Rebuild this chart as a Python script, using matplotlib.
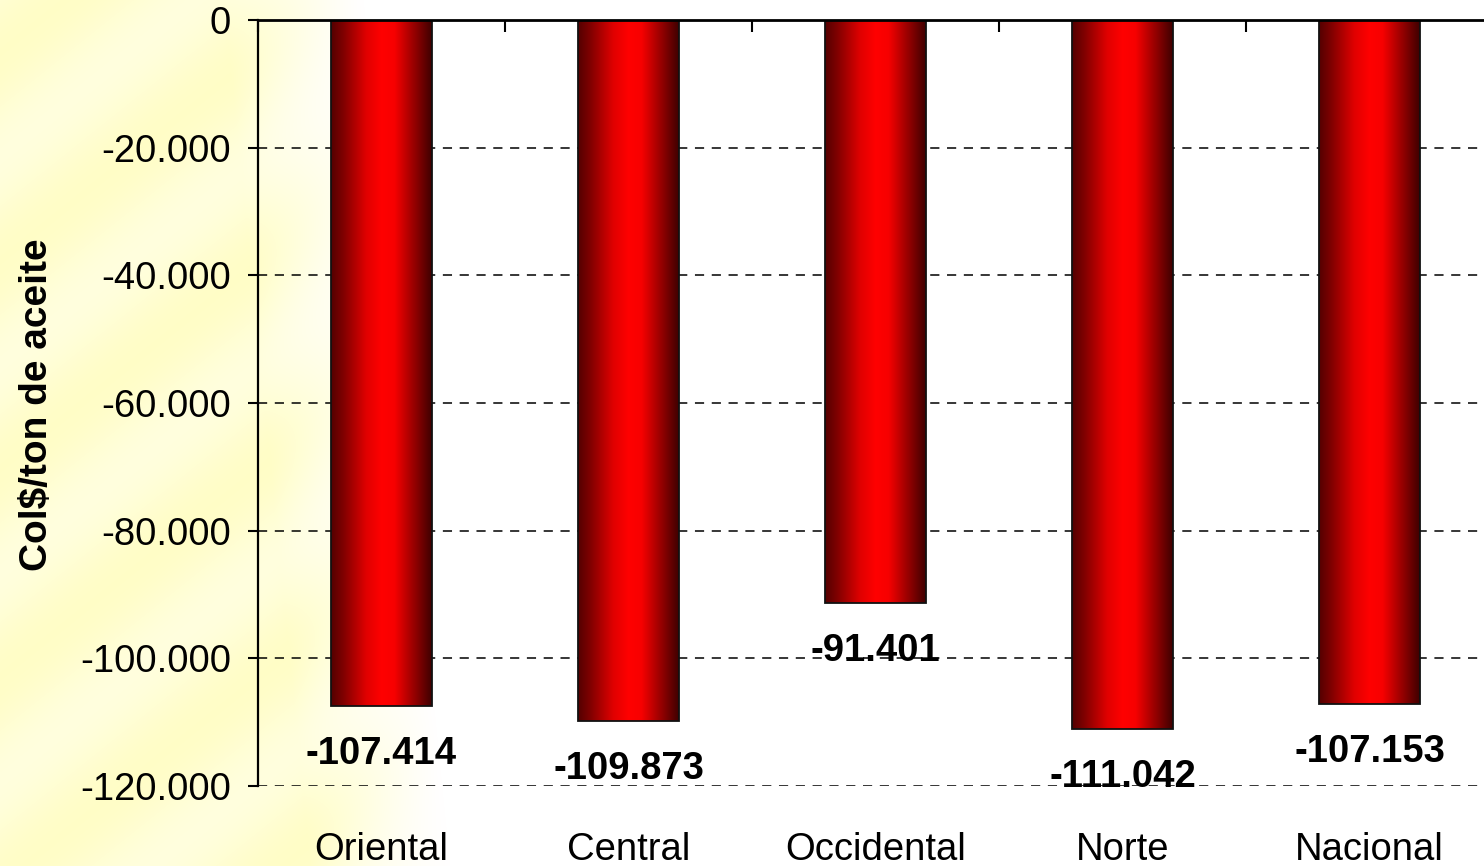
import numpy as np
import matplotlib
matplotlib.use("Agg")
import matplotlib.pyplot as plt
from matplotlib.colors import LinearSegmentedColormap
from matplotlib.ticker import FuncFormatter, FixedLocator

# Costos por region (Col$/ton de aceite)
regiones = ["Oriental", "Central", "Occidental", "Norte", "Nacional"]
valores = [-107414, -109873, -91401, -111042, -107153]
yticks = [0, -20000, -40000, -60000, -80000, -100000, -120000]

plt.rcParams['font.family'] = ['Liberation Sans', 'DejaVu Sans']

W, H = 1484, 866
fig = plt.figure(figsize=(W / 100, H / 100), dpi=100)

# fondo: franja amarilla a la izquierda que se desvanece a blanco
bg = fig.add_axes([0, 0, 1, 1], zorder=-10)
yy, xx = np.mgrid[0:H, 0:W].astype(float)
fade = np.clip((450 - xx - 0.1 * (H - yy)) / 140.0, 0, 1)
fade = fade ** 1.1
streak = 0.8 + 0.2 * np.sin(2 * np.pi * (xx + 1.25 * yy) / 260.0)
amt = fade * streak
img = np.ones((H, W, 3))
img[..., 2] = 1 - 0.22 * amt
img[..., 1] = 1 - 0.005 * amt
bg.imshow(img, aspect='auto', extent=[0, 1, 0, 1], origin='upper')
bg.axis('off')

ax = fig.add_axes([258 / W, 80 / H, 1235 / W, 766 / H])
ax.patch.set_alpha(0)

x = np.arange(len(regiones))
ancho = 0.405
barras = ax.bar(x, valores, width=ancho, color='#cc0000', edgecolor='#111111',
                linewidth=1.3, zorder=3)

# sombreado cilindrico de cada barra
cil = LinearSegmentedColormap.from_list(
    "cil", [(0.0, (0.33, 0.0, 0.0)), (0.12, (0.5, 0.0, 0.0)),
            (0.35, (0.88, 0.0, 0.0)), (0.5, (1.0, 0.0, 0.0)),
            (0.63, (0.97, 0.0, 0.0)), (0.82, (0.6, 0.0, 0.0)),
            (1.0, (0.25, 0.0, 0.0))])
grad = np.linspace(0, 1, 256).reshape(1, -1)
for b in barras:
    x0 = b.get_x()
    x1 = x0 + b.get_width()
    y0 = b.get_y()
    y1 = y0 + b.get_height()
    im = ax.imshow(grad, cmap=cil, aspect='auto', extent=[x0, x1, y1, y0],
                   origin='upper', zorder=3.5, interpolation='bilinear')
    im.set_clip_path(b)
    b.set_facecolor('none')
    b.set_zorder(4)

for xi, v in zip(x, valores):
    ax.annotate(f"{v:,.0f}".replace(",", "."), (xi, v), xytext=(0, -34.5),
                textcoords='offset points', ha='center', va='center',
                fontsize=27.5, fontweight='bold', zorder=5)

ax.set_xlim(-0.5, len(regiones) - 0.5)
ax.set_ylim(-120000, 0)

ax.yaxis.set_major_locator(FixedLocator(yticks))
ax.yaxis.set_major_formatter(FuncFormatter(lambda v, p: f"{v:,.0f}".replace(",", ".")))
ax.tick_params(axis='y', direction='out', length=7.5, width=1.5, pad=12,
               labelsize=27.5)

ax.set_xticks(x)
ax.set_xticklabels(regiones)
ax.tick_params(axis='x', which='major', bottom=False, top=False, length=0,
               pad=33, labelsize=27.5)
ax.set_xticks(np.arange(len(regiones) + 1) - 0.5, minor=True)
ax.tick_params(axis='x', which='minor', bottom=False, top=True,
               direction='in', length=8.5, width=1.5)

ax.grid(axis='y', linestyle=(0, (6, 5)), color='black', linewidth=1.1, zorder=1)
ax.set_axisbelow(True)

ax.spines['right'].set_visible(False)
ax.spines['bottom'].set_visible(False)
ax.spines['top'].set_linewidth(2)
ax.spines['left'].set_linewidth(1.6)
ax.spines['top'].set_zorder(6)

fig.text(37 / W, 1 - 405 / H, "Col$/ton de aceite", rotation=90,
         ha='center', va='center', fontsize=28, fontweight='bold')

fig.savefig("out.png", dpi=100)
